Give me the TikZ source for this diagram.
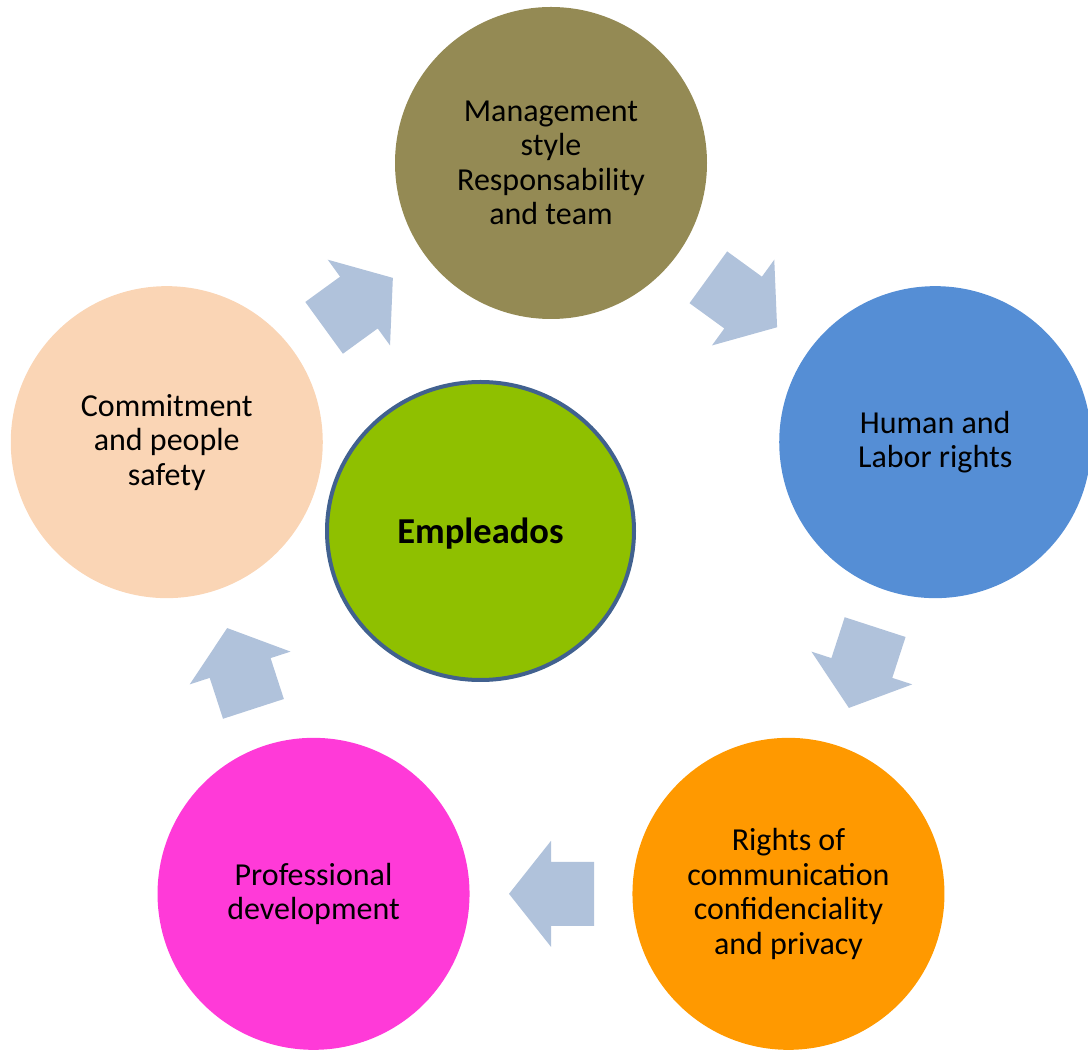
\documentclass[tikz,border=0pt]{standalone}
\usepackage{fontspec}
\setmainfont{Carlito}
\usetikzlibrary{calc,shapes.geometric}

\definecolor{olivefill}{RGB}{148,138,84}
\definecolor{bluefill}{RGB}{85,142,213}
\definecolor{orangefill}{RGB}{255,153,0}
\definecolor{magentafill}{RGB}{255,58,216}
\definecolor{peachfill}{RGB}{250,213,181}
\definecolor{hubgreen}{RGB}{143,192,0}
\definecolor{hubedge}{RGB}{65,97,143}
\definecolor{arrowfill}{RGB}{176,194,219}

\begin{document}
\begin{tikzpicture}[x=1pt,y=1pt,
  topic/.style={circle, minimum size=312pt, inner sep=0pt, align=center,
    font=\fontsize{32}{34.5}\selectfont, text=black},
  hub/.style={ellipse, draw=hubedge, line width=4pt, fill=hubgreen,
    minimum width=307pt, minimum height=298pt, inner sep=0pt, text depth=0pt,
    font=\fontsize{36.5}{40}\selectfont\bfseries, text=black},
  cyclearrow/.style={fill=arrowfill}]
\useasboundingbox (0,0) rectangle (1088,1050);

% centre of the cycle
\coordinate (C) at (551,483);

% the five topics around the cycle
\node[topic, fill=olivefill]   (mgmt)   at ($(C)+(90:404)$)   {Management\\style\\Responsability\\and team};
\node[topic, fill=bluefill]    (rights) at ($(C)+(18:404)$)   {Human and\\Labor rights};
\node[topic, fill=orangefill]  (comm)   at ($(C)+(-54:404)$)  {Rights of\\communication\\confidenciality\\and privacy};
\node[topic, fill=magentafill] (prof)   at ($(C)+(-126:404)$) {Professional\\development};
\node[topic, fill=peachfill]   (safety) at ($(C)+(162:404)$)  {Commitment\\and people\\safety};

% central hub
\node[hub] (hub) at (480.5,519) {Empleados};

% block arrows running clockwise between neighbouring topics
\foreach \a/\b/\dir in {safety/mgmt/36, mgmt/rights/-36, rights/comm/-108, comm/prof/180, prof/safety/108}{
  \fill[cyclearrow, shift={($(\a)!0.5!(\b)$)}, rotate=\dir]
    (-43,-32) -- (0,-32) -- (0,-53) -- (42,0) -- (0,53) -- (0,32) -- (-43,32) -- cycle;
}
\end{tikzpicture}
\end{document}
